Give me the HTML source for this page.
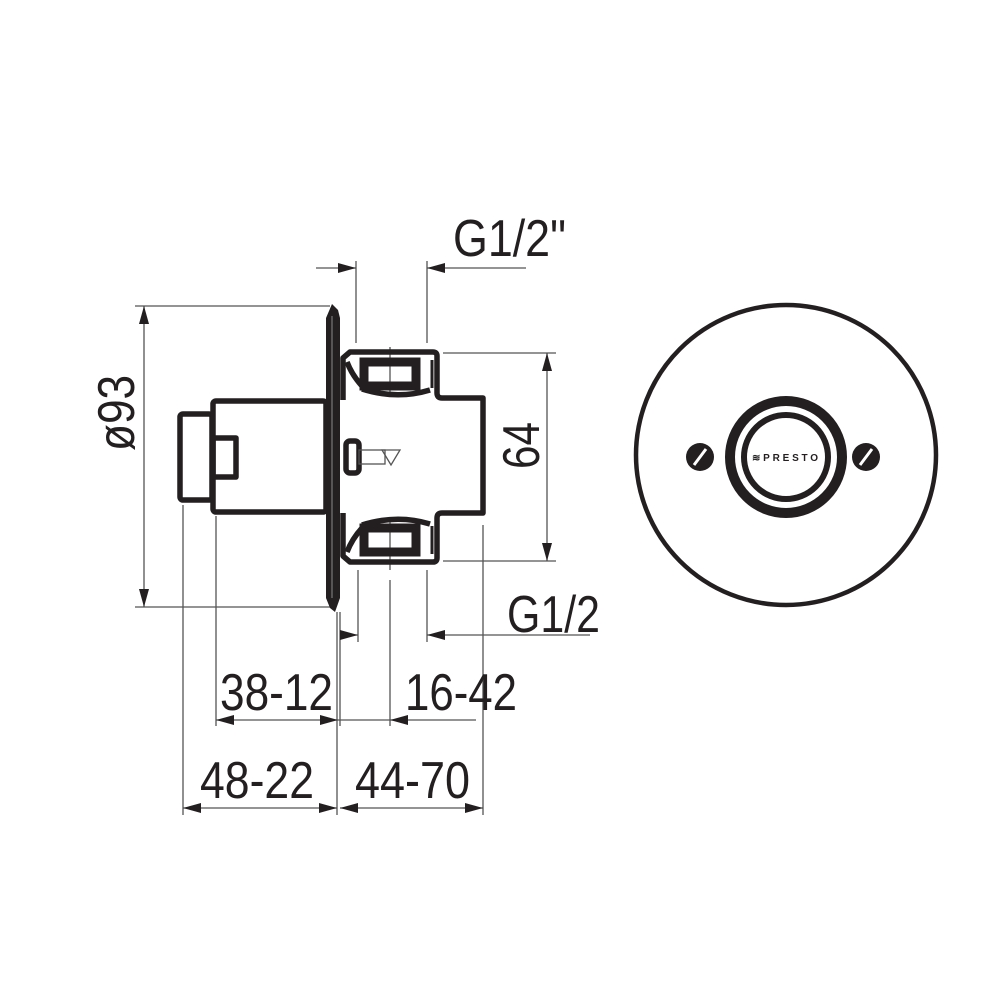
<!DOCTYPE html>
<html><head><meta charset="utf-8"><style>
html,body{margin:0;padding:0;background:#fff;width:1000px;height:1000px;overflow:hidden}
text{font-family:"Liberation Sans Narrow","Liberation Sans",sans-serif;fill:#231f20;font-size:52px}
</style></head><body>
<svg width="1000" height="1000" viewBox="0 0 1000 1000" xmlns="http://www.w3.org/2000/svg">
<defs>
<marker id="a" viewBox="0 0 18 10" refX="18" refY="5" markerWidth="18" markerHeight="10" markerUnits="userSpaceOnUse" orient="auto"><path d="M0,0 L18,5 L0,10 z" fill="#231f20"/></marker>
</defs>
<g stroke="#555" stroke-width="1.3" fill="none">
<line x1="135" y1="306" x2="330" y2="306"/>
<line x1="135" y1="607" x2="330" y2="607"/>
<line x1="443" y1="353" x2="556" y2="353"/>
<line x1="443" y1="561" x2="556" y2="561"/>
<line x1="356" y1="261" x2="356" y2="343"/>
<line x1="427" y1="261" x2="427" y2="343"/>
<line x1="390" y1="347" x2="390" y2="395"/>
<line x1="390" y1="520" x2="390" y2="570"/>
<line x1="390" y1="580" x2="390" y2="726"/>
<line x1="358" y1="570" x2="358" y2="642"/>
<line x1="427" y1="570" x2="427" y2="642"/>
<line x1="483" y1="525" x2="483" y2="815"/>
<line x1="183" y1="505" x2="183" y2="815"/>
<line x1="216" y1="516" x2="216" y2="726"/>
<line x1="337" y1="612" x2="337" y2="815"/>
<line x1="340" y1="612" x2="340" y2="726"/>
<line x1="144" y1="330" x2="144" y2="306" marker-end="url(#a)"/>
<line x1="144" y1="330" x2="144" y2="607" marker-end="url(#a)"/>
<line x1="547" y1="375" x2="547" y2="353" marker-end="url(#a)"/>
<line x1="547" y1="375" x2="547" y2="561" marker-end="url(#a)"/>
<line x1="316" y1="268" x2="356" y2="268" marker-end="url(#a)"/>
<line x1="526" y1="268" x2="427" y2="268" marker-end="url(#a)"/>
<line x1="340" y1="635" x2="358" y2="635" marker-end="url(#a)"/>
<line x1="590" y1="635" x2="427" y2="635" marker-end="url(#a)"/>
<line x1="260" y1="720" x2="216" y2="720" marker-end="url(#a)"/>
<line x1="260" y1="720" x2="338" y2="720" marker-end="url(#a)"/>
<line x1="338" y1="720" x2="390" y2="720"/>
<line x1="476" y1="720" x2="390" y2="720" marker-end="url(#a)"/>
<line x1="260" y1="808" x2="183" y2="808" marker-end="url(#a)"/>
<line x1="260" y1="808" x2="337" y2="808" marker-end="url(#a)"/>
<line x1="410" y1="808" x2="340" y2="808" marker-end="url(#a)"/>
<line x1="410" y1="808" x2="483" y2="808" marker-end="url(#a)"/>
</g>
<g stroke="#231f20" stroke-width="5.5" fill="none" stroke-linejoin="round">
<rect x="180" y="414" width="32" height="86" rx="3"/>
<rect x="213" y="401" width="113" height="111" rx="3"/>
<rect x="213" y="438" width="23" height="39"/>
<rect x="346" y="441" width="13" height="32" rx="4"/>
<path d="M343,400 L343,358 L350,352 L433,352 Q437,352 437,356 L437,393 Q437,398 442,398 L483,398 L483,513 L442,513 Q437,513 437,518 L437,558 Q437,562 433,562 L350,562 L343,556 L343,513"/>
<path d="M347,362 Q352,375 362,386"/>
<path d="M347,552 Q352,539 362,528"/>
<path d="M362,389 Q397,400 430,390"/>
<path d="M362,525 Q397,514 430,524"/>
<line x1="432" y1="360" x2="432" y2="388" stroke-width="3"/>
<line x1="432" y1="526" x2="432" y2="554" stroke-width="3"/>
</g>
<g stroke="#231f20" stroke-width="9" fill="none">
<rect x="364" y="362" width="52" height="24"/>
<rect x="364" y="528" width="52" height="24"/>
</g>
<path d="M326,318 L332,304 L338,310 L340,318 L340,598 L335,612 L330,608 L326,598 Z" fill="#231f20"/>
<line x1="332" y1="316" x2="332" y2="598" stroke="#888" stroke-width="1"/>
<g stroke="#555" stroke-width="1.3" fill="none">
<rect x="359" y="450" width="26" height="14"/>
<path d="M382,450 L400,450 L391,465 Z"/>
</g>
<g fill="none" stroke="#231f20">
<circle cx="786" cy="455" r="150" stroke-width="4.5"/>
<circle cx="786" cy="457" r="56" stroke-width="10"/>
<circle cx="786" cy="457" r="42" stroke-width="6"/>
</g>
<circle cx="700" cy="457" r="14" fill="#231f20"/>
<circle cx="866" cy="457" r="14" fill="#231f20"/>
<line x1="694" y1="465" x2="706" y2="449" stroke="#fff" stroke-width="3"/>
<line x1="860" y1="465" x2="872" y2="449" stroke="#fff" stroke-width="3"/>
<text x="752" y="461" style="font-size:10px;font-family:'Liberation Sans',sans-serif;font-weight:bold" textLength="66">≋PRESTO</text>
<text x="453" y="256" textLength="113" lengthAdjust="spacingAndGlyphs">G1/2"</text>
<text x="507" y="632" textLength="93" lengthAdjust="spacingAndGlyphs">G1/2</text>
<text x="220" y="710" textLength="113" lengthAdjust="spacingAndGlyphs">38-12</text>
<text x="405" y="710" textLength="112" lengthAdjust="spacingAndGlyphs">16-42</text>
<text x="200" y="798" textLength="114" lengthAdjust="spacingAndGlyphs">48-22</text>
<text x="355" y="798" textLength="115" lengthAdjust="spacingAndGlyphs">44-70</text>
<text transform="translate(134,451) rotate(-90)" textLength="76" lengthAdjust="spacingAndGlyphs">ø93</text>
<text transform="translate(539,469) rotate(-90)" textLength="47" lengthAdjust="spacingAndGlyphs">64</text>
</svg>
</body></html>
